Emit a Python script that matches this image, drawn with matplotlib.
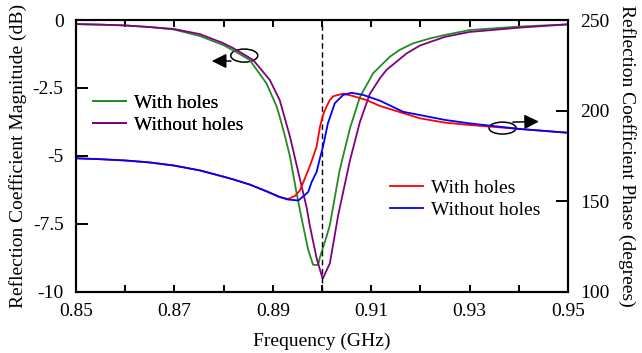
import numpy as np
import matplotlib
matplotlib.use("Agg")
import matplotlib.pyplot as plt
from matplotlib.patches import Ellipse
from matplotlib.ticker import FixedLocator, FuncFormatter

plt.rcParams['font.family'] = ['Liberation Serif', 'DejaVu Serif']

# magnitude (dB), left axis
freq_mag_with = [0.85, 0.8549, 0.86, 0.865, 0.8699, 0.8752, 0.8799, 0.882, 0.8853,
                 0.8887, 0.8908, 0.8914, 0.8925, 0.8935, 0.8948, 0.8958, 0.8972,
                 0.8982, 0.8992, 0.8996, 0.9009, 0.9016, 0.9036, 0.9057, 0.9077,
                 0.9104, 0.9138, 0.9158, 0.9185, 0.9219, 0.925, 0.93, 0.9402, 0.95]
mag_with = [-0.15, -0.17, -0.20, -0.26, -0.35, -0.59, -0.92, -1.12, -1.47,
            -2.33, -3.19, -3.56, -4.30, -5.03, -6.34, -7.26, -8.47,
            -9.02, -9.02, -8.73, -7.99, -7.55, -5.52, -3.98, -2.84,
            -1.96, -1.35, -1.10, -0.86, -0.68, -0.55, -0.37, -0.24, -0.16]

freq_mag_without = [0.85, 0.8549, 0.86, 0.865, 0.8699, 0.8752, 0.8799, 0.882, 0.886,
                    0.8894, 0.8914, 0.8935, 0.8945, 0.8958, 0.8969, 0.8975, 0.8989,
                    0.9001, 0.9002, 0.9016, 0.9033, 0.9057, 0.9077, 0.9097, 0.9118,
                    0.9131, 0.9172, 0.9199, 0.925, 0.93, 0.9402, 0.95]
mag_without = [-0.15, -0.17, -0.20, -0.26, -0.33, -0.52, -0.85, -1.04, -1.47,
               -2.21, -2.95, -4.30, -5.08, -6.08, -6.92, -7.55, -8.77,
               -9.51, -9.51, -8.96, -7.18, -5.16, -3.76, -2.73, -2.14,
               -1.84, -1.23, -0.94, -0.62, -0.44, -0.28, -0.16]

# phase (degrees), right axis
freq_ph_with = [0.85, 0.8549, 0.86, 0.865, 0.8699, 0.8752, 0.8799, 0.882, 0.8853,
                0.8887, 0.8914, 0.8931, 0.8945, 0.8955, 0.8975, 0.8989, 0.8996,
                0.9002, 0.9009, 0.9016, 0.9023, 0.9043, 0.9063, 0.909, 0.9118,
                0.9199, 0.925, 0.93, 0.9402, 0.95]
ph_with = [173.6, 173.1, 172.4, 171.3, 169.6, 166.9, 163.5, 161.9, 159.1,
           155.4, 152.2, 151.1, 152.8, 155.8, 169.0, 180.0, 191.1,
           197.5, 202.1, 205.8, 207.9, 209.3, 208.0, 205.8, 202.5,
           195.7, 193.3, 192.0, 189.8, 187.7]

freq_ph_without = [0.85, 0.8549, 0.86, 0.865, 0.8699, 0.8752, 0.8799, 0.882, 0.8853,
                   0.8887, 0.8914, 0.8931, 0.8952, 0.8963, 0.8972, 0.8979, 0.8989,
                   0.8996, 0.9002, 0.9012, 0.9026, 0.9043, 0.906, 0.9084, 0.9118,
                   0.9165, 0.925, 0.93, 0.9402, 0.95]
ph_without = [173.6, 173.1, 172.4, 171.3, 169.6, 166.9, 163.5, 161.9, 159.1,
              155.4, 152.2, 150.8, 150.3, 152.8, 155.0, 160.5, 166.0,
              173.8, 180.0, 192.9, 204.0, 208.6, 209.8, 208.6, 205.4,
              199.3, 194.8, 192.9, 189.8, 187.7]

mag_ticks = [0, -2.5, -5, -7.5, -10]
mag_labels = ['0', '-2.5', '-5', '-7.5', '-10']
phase_ticks = [100, 150, 200, 250]
freq_ticks = [0.85, 0.86, 0.87, 0.88, 0.89, 0.90, 0.91, 0.92, 0.93, 0.94, 0.95]

FS = 14

fig = plt.figure(figsize=(6.42, 3.53), dpi=100)
ax = fig.add_axes([0.1184, 0.1742, 0.7663, 0.7691])
ax2 = ax.twinx()

l1, = ax.plot(freq_mag_with, mag_with, color='#228b22', lw=1.3, label='With holes')
l2, = ax.plot(freq_mag_without, mag_without, color='#800080', lw=1.3, label='Without holes')
l3, = ax2.plot(freq_ph_with, ph_with, color='#ff0000', lw=1.3, label='With holes')
l4, = ax2.plot(freq_ph_without, ph_without, color='#0000ff', lw=1.3, label='Without holes')

ax.axvline(0.90, color='k', ls=(0, (4, 2.5)), lw=1.0)

ax.set_xlim(0.85, 0.95)
ax.set_ylim(-10, 0)
ax2.set_ylim(100, 250)

ax.xaxis.set_major_locator(FixedLocator(freq_ticks))
ax.xaxis.set_major_formatter(FuncFormatter(
    lambda v, p: ('%.2f' % v) if round(v * 100) % 2 == 1 else ''))
ax.set_yticks(mag_ticks)
ax.set_yticklabels(mag_labels)
ax2.set_yticks(phase_ticks)

ax.tick_params(axis='x', direction='in', length=5, width=1.4, top=True,
               labelsize=FS, pad=8.5)
ax.tick_params(axis='y', direction='in', length=8.5, width=1.4, labelsize=FS, pad=9)
ax2.tick_params(axis='y', direction='in', length=8.5, width=1.4, labelsize=FS, pad=9)
for a in (ax, ax2):
    for s in a.spines.values():
        s.set_linewidth(1.5)

ax.set_xlabel('Frequency (GHz)', fontsize=FS, labelpad=9)
ax.set_ylabel('Reflection Coefficient Magnitude (dB)', fontsize=FS, labelpad=4)
ax2.set_ylabel('Reflection Coefficient Phase (degrees)', fontsize=FS,
               rotation=270, labelpad=19)

# ellipse + arrow markers
ax.add_patch(Ellipse((0.8842, -1.31), 0.0055, 0.48, fill=False, ec='k', lw=1.1))
ax.annotate('', xy=(0.8776, -1.51), xytext=(0.8815, -1.51),
            arrowprops=dict(arrowstyle='-|>', color='k', lw=1.1,
                            mutation_scale=22, shrinkA=0, shrinkB=0))
ax.add_patch(Ellipse((0.9367, -3.98), 0.0055, 0.44, fill=False, ec='k', lw=1.1))
ax.annotate('', xy=(0.9441, -3.74), xytext=(0.9388, -3.76),
            arrowprops=dict(arrowstyle='-|>', color='k', lw=1.1,
                            mutation_scale=22, shrinkA=0, shrinkB=0))

leg_kw = dict(frameon=False, fontsize=FS, handlelength=1.7, handletextpad=0.4,
              labelspacing=0.22, borderaxespad=0, borderpad=0, loc='upper left')
leg1 = ax.legend(handles=[l1, l2], bbox_to_anchor=(0.0346, 0.727), **leg_kw)
ax.add_artist(leg1)
ax2.legend(handles=[l3, l4], bbox_to_anchor=(0.638, 0.414), **leg_kw)

fig.savefig('out.png', dpi=100)
